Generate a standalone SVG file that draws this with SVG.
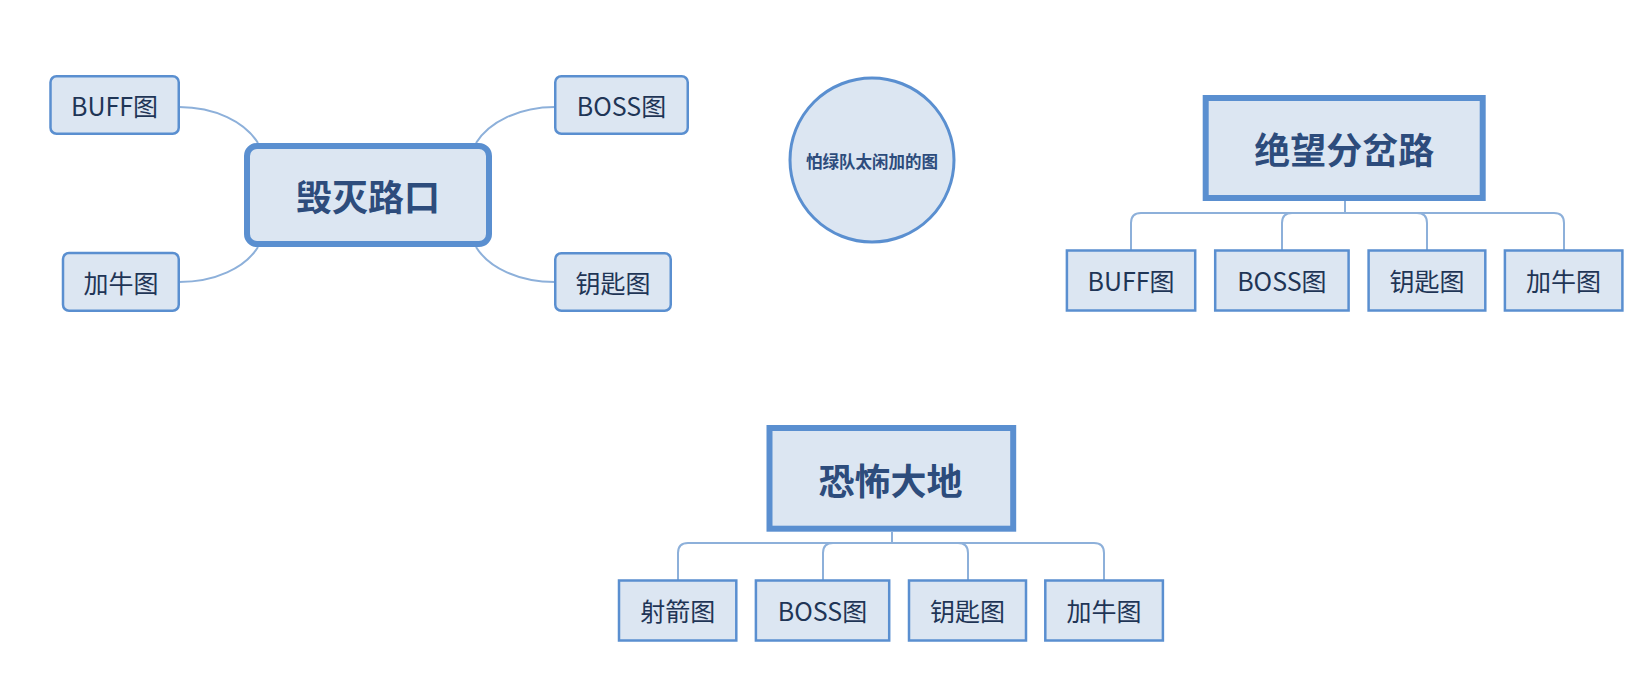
<svg xmlns="http://www.w3.org/2000/svg" width="1634" height="680" viewBox="0 0 1634 680">
<style>
.box{fill:#DCE6F2;stroke:#5A8FD0;stroke-width:2.5}
.main{fill:#DCE6F2;stroke:#5A8FD0;stroke-width:6}
.t{font-family:"Noto Sans CJK SC","Microsoft YaHei",sans-serif;font-size:25px;fill:#1F3556;text-anchor:middle;dominant-baseline:central}
.h{font-family:"Noto Sans CJK SC","Microsoft YaHei",sans-serif;font-size:36px;font-weight:bold;fill:#2D4C7C;text-anchor:middle;dominant-baseline:central}
.c{font-family:"Noto Sans CJK SC","Microsoft YaHei",sans-serif;font-size:16.5px;font-weight:bold;fill:#2D4C7C;text-anchor:middle;dominant-baseline:central}
.ln{fill:none;stroke:#8DB0DA;stroke-width:2}
</style>
<rect width="1634" height="680" fill="#FFFFFF"/>
<g id="connectors">
<path class="ln" d="M179,107 C215,107 245,122 258,143"/>
<path class="ln" d="M179,282 C215,282 245,268 258,247"/>
<path class="ln" d="M555,107 C519,107 489,122 476,143"/>
<path class="ln" d="M555,282 C519,282 489,268 476,247"/>
<path class="ln" d="M1345,201 V213 H1141 Q1131,213 1131,223 V250"/>
<path class="ln" d="M1345,213 H1292 Q1282,213 1282,223 V250"/>
<path class="ln" d="M1345,213 H1417 Q1427,213 1427,223 V250"/>
<path class="ln" d="M1345,213 H1554 Q1564,213 1564,223 V250"/>
<path class="ln" d="M892,532 V543 H688 Q678,543 678,553 V580"/>
<path class="ln" d="M892,543 H833 Q823,543 823,553 V580"/>
<path class="ln" d="M892,543 H958 Q968,543 968,553 V580"/>
<path class="ln" d="M892,543 H1094 Q1104,543 1104,553 V580"/>
</g>
<g id="node-huimie">
<rect class="main" x="247" y="146" width="242" height="98" rx="10"/>
<text class="h" x="368" y="195">毁灭路口</text>
</g>
<g id="node-huimie-buff">
<rect class="box" x="50.5" y="76.25" width="128.25" height="57.5" rx="6"/>
<text class="t" x="114.6" y="105">BUFF图</text>
</g>
<g id="node-huimie-jianiu">
<rect class="box" x="63" y="253" width="115.75" height="57.75" rx="6"/>
<text class="t" x="120.9" y="282">加牛图</text>
</g>
<g id="node-huimie-boss">
<rect class="box" x="555.25" y="76.25" width="132.5" height="57.5" rx="6"/>
<text class="t" x="621.5" y="105">BOSS图</text>
</g>
<g id="node-huimie-key">
<rect class="box" x="555.25" y="253.25" width="115.5" height="57.5" rx="6"/>
<text class="t" x="613" y="282">钥匙图</text>
</g>
<g id="node-circle">
<circle cx="872" cy="160" r="82" fill="#DCE6F2" stroke="#5A8FD0" stroke-width="3"/>
<text class="c" x="872" y="161">怕绿队太闲加的图</text>
</g>
<g id="node-juewang">
<rect class="main" x="1205.7" y="98" width="277" height="100"/>
<text class="h" x="1344.2" y="148">绝望分岔路</text>
</g>
<g id="node-juewang-buff">
<rect class="box" x="1066.9" y="250.5" width="128.3" height="60"/>
<text class="t" x="1131" y="280">BUFF图</text>
</g>
<g id="node-juewang-boss">
<rect class="box" x="1215.2" y="250.5" width="133.4" height="60"/>
<text class="t" x="1281.9" y="280">BOSS图</text>
</g>
<g id="node-juewang-key">
<rect class="box" x="1368.6" y="250.5" width="116.7" height="60"/>
<text class="t" x="1426.9" y="280">钥匙图</text>
</g>
<g id="node-juewang-jianiu">
<rect class="box" x="1504.9" y="250.5" width="117.5" height="60"/>
<text class="t" x="1563.6" y="280">加牛图</text>
</g>
<g id="node-kongbu">
<rect class="main" x="769.5" y="428" width="243.7" height="100.7"/>
<text class="h" x="890.4" y="479">恐怖大地</text>
</g>
<g id="node-kongbu-arrow">
<rect class="box" x="619" y="580.5" width="117.3" height="60"/>
<text class="t" x="677.7" y="610">射箭图</text>
</g>
<g id="node-kongbu-boss">
<rect class="box" x="755.9" y="580.5" width="133.3" height="60"/>
<text class="t" x="822.5" y="610">BOSS图</text>
</g>
<g id="node-kongbu-key">
<rect class="box" x="909" y="580.5" width="117" height="60"/>
<text class="t" x="967.5" y="610">钥匙图</text>
</g>
<g id="node-kongbu-jianiu">
<rect class="box" x="1045.3" y="580.5" width="117.6" height="60"/>
<text class="t" x="1104.1" y="610">加牛图</text>
</g>
</svg>
